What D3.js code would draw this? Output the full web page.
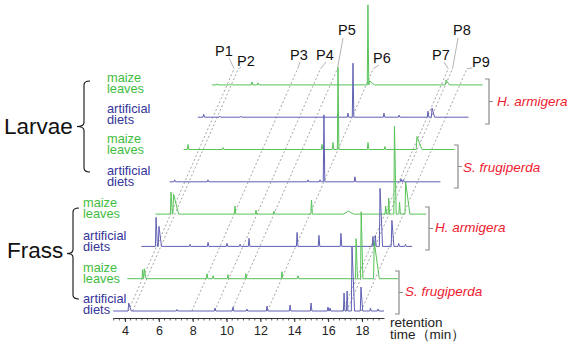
<!DOCTYPE html>
<html><head><meta charset="utf-8">
<script src="https://cdn.jsdelivr.net/npm/d3@7"></script>
<style>
body{margin:0;background:#fff}
text{font-family:"Liberation Sans",Arial,sans-serif}
</style>
</head><body>
<svg id="c" width="574" height="350"></svg>
<script>
// ---------------- DATA ----------------
// traces listed bottom -> top; each peak: [retention time (min), height (a.u.), tail width (min), lead width (min)]
const traceKinds = ["diet","maize","diet","maize","diet","maize","diet","maize"];
const peaksFrassDietSF = [[4.22,8,0.15],[7.07,1.5],[9.32,3],[10.38,4],[11.2,2],[12.39,5],[13.75,6],[14.99,8],[15.99,4],[16.11,3],[16.94,18],[17.12,20],[17.41,64,0.15],[17.94,24,0.1],[18.5,3],[18.95,2]];
const peaksFrassMaizeSF = [[4.21,9],[4.31,10,0.1],[8.01,5],[8.37,3],[9.25,4],[10.31,5],[12.44,7],[13.39,3],[16.82,40,0.08],[17.12,67,0.1],[17.89,37,0.3]];
const peaksFrassDietHA = [[4.17,29,0.08],[4.34,20,0.15],[6.17,2],[7.24,4],[8.36,3],[9.13,2],[9.66,8],[12.5,14],[13.79,11],[15.09,13],[16.98,10],[17.12,11],[17.4,58,0.15],[18.1,26,0.12],[18.5,3],[18.9,2]];
const peaksFrassMaizeHA = [[4.22,22,0.08],[4.37,20,0.3],[8.0,8],[9.24,4],[10.3,3],[12.52,14],[14.7,3,0.3,0.3],[16.9,8],[17.08,16],[17.42,88,0.1],[17.72,12],[18.08,32,0.25]];
const peaksLarvaeDietSF = [[3.6,2],[5.57,2],[11.48,2],[12.19,2],[12.42,67],[14.25,5],[16.97,3],[17.1,2]];
const peaksLarvaeMaizeSF = [[3.56,5],[5.62,2],[11.47,5],[12.12,7],[12.42,82],[14.19,7],[15.19,3],[17.08,13,0.3]];
const peaksLarvaeDietHA = [[3.65,3],[4.6,1],[5.85,1],[11.58,3],[12.17,4],[12.47,54],[14.3,4],[15.19,2],[16.9,6],[17.14,9,0.15]];
const peaksLarvaeMaizeHA = [[3.6,1],[4.4,1],[5.67,3],[6.03,2],[12.52,80],[12.62,4,0.3],[17.13,5,0.2]];
const tracePeaks = [peaksFrassDietSF,peaksFrassMaizeSF,peaksFrassDietHA,peaksFrassMaizeHA,
                    peaksLarvaeDietSF,peaksLarvaeMaizeSF,peaksLarvaeDietHA,peaksLarvaeMaizeHA];
const runRange = [3.3, 19.3];
const peakLabels = ["P1","P2","P3","P4","P5","P6","P7","P8","P9"];
const peakTimes  = [4.2, 4.45, 7.95, 9.3, 10.3, 12.42, 16.85, 17.1, 17.95];
const axisTicks = [4,6,8,10,12,14,16,18];
const seriesLines = {maize:["maize","leaves"], diet:["artificial","diets"]};
const speciesNames = ["S. frugiperda","H. armigera","S. frugiperda","H. armigera"];
const groupNames = ["Frass","Larvae"];

// ---------------- LAYOUT ----------------
const svg = d3.select("#c");
const x = d3.scaleLinear().domain([4,18]).range([125,362]);
const yI = d3.scaleLinear().domain([0,100]).range([0,-100]);
const base0 = 311, dX = 14.1, dY = 32.3;
const col = {maize:"#58c358", diet:"#6060b4"};
const txtCol = {maize:"#3fbd3f", diet:"#34349a"};
const off = k => [k*dX, base0 - k*dY];

// dashed guide lines (constant retention time across traces)
const lvlTop = 7.5;
const labelPos = [[215,56],[237,66],[290,60],[316,60],[338,35],[373,63],[432,60],[453,35],[472,67]];
const leadStart = [[229,58],[241,67],[300,62],[326,62],[343,38],[379,65],[444,62],[458,38],[472,68]];
const guides = svg.append("g");
peakTimes.forEach((t,i)=>{
  const p0 = [x(t)+off(0)[0], off(0)[1]];
  const p1 = [x(t)+lvlTop*dX, base0 - lvlTop*dY];
  guides.append("line").attr("x1",p0[0]).attr("y1",p0[1]).attr("x2",p1[0]).attr("y2",p1[1])
    .attr("stroke","#9a9a9a").attr("stroke-width",0.9).attr("stroke-dasharray","2,2.2");
  guides.append("line").attr("x1",leadStart[i][0]).attr("y1",leadStart[i][1]).attr("x2",p1[0]).attr("y2",p1[1])
    .attr("stroke","#a0a0a0").attr("stroke-width",0.8);
  svg.append("text").attr("x",labelPos[i][0]).attr("y",labelPos[i][1]).attr("font-size",14.5)
    .attr("fill","#111").text(peakLabels[i]);
});

// traces
function tracePoints(peaks){
  const pts=[[runRange[0],0]];
  peaks.forEach(p=>{
    const [t,h,tail=0.05,lead=0.04]=p;
    let s=t-lead;
    const last=pts[pts.length-1];
    if(last[0]>s){ pts.pop(); const m=(last[0]+s)/2; pts.push([Math.min(m,t-0.01),Math.min(h,last[1]+2)*0.35]); }
    else pts.push([s,0]);
    pts.push([t,h]); pts.push([t+tail,0]);
  });
  pts.push([runRange[1],0]);
  return pts;
}
const line = d3.line().x(d=>x(d[0])).y(d=>yI(d[1]));
for(let k=7;k>=0;k--){
  const [ox,oy]=off(k);
  svg.append("g").attr("transform",`translate(${ox},${oy})`)
    .append("path").attr("d",line(tracePoints(tracePeaks[k])))
    .attr("fill","none").attr("stroke",col[traceKinds[k]]).attr("stroke-width",1).attr("stroke-linejoin","round");
}

// axis
const xa = d3.scaleLinear().domain(runRange).range([x(runRange[0]),x(runRange[1])]);
const axY = 318;
const gAx = svg.append("g").attr("transform",`translate(0,${axY})`);
gAx.call(d3.axisBottom(xa).tickValues(axisTicks).tickSize(4).tickSizeOuter(0).tickPadding(4));
const minor = d3.range(10,58).map(i=>i/3).filter(v=>v>=runRange[0]&&v<=runRange[1]);
gAx.append("g").selectAll("line").data(minor).join("line")
  .attr("x1",d=>xa(d)).attr("x2",d=>xa(d)).attr("y1",0).attr("y2",2.5).attr("stroke","#333").attr("stroke-width",0.8);
gAx.selectAll("text").attr("font-size",12.5).attr("font-family","'Liberation Sans',Arial,sans-serif").attr("fill","#222");
gAx.selectAll(".domain,.tick line").attr("stroke","#333");
const axT = svg.append("text").attr("font-size",13.5).attr("fill","#222");
axT.append("tspan").attr("x",390).attr("y",327).text("retention");
axT.append("tspan").attr("x",390).attr("y",339).text("time（min）");

// series labels on the left (two lines in one text element)
const labelX = [83,83,83,83,107,107,107,107];
const labelBase = [302.5,271.5,239.5,206.5,174.5,142.5,112.5,81.5];
for(let k=0;k<8;k++){
  const kind=traceKinds[k];
  const t = svg.append("text").attr("font-size",12.8).attr("fill",txtCol[kind]);
  seriesLines[kind].forEach((s,j)=>{
    t.append("tspan").attr("x",labelX[k]).attr("y",labelBase[k]+j*11).text(s);
  });
}

// group labels + curly braces
function brace(xv, y0, y1, tipX){
  const ym=(y0+y1)/2, e=xv+6;
  return `M${e},${y0} Q${xv},${y0} ${xv},${y0+4} L${xv},${ym-4} Q${xv},${ym} ${tipX},${ym} Q${xv},${ym} ${xv},${ym+4} L${xv},${y1-4} Q${xv},${y1} ${e},${y1}`;
}
svg.append("path").attr("d",brace(84,81,172,77)).attr("fill","none").attr("stroke","#111").attr("stroke-width",1.1);
svg.append("path").attr("d",brace(73,208,299,67)).attr("fill","none").attr("stroke","#111").attr("stroke-width",1.1);
svg.append("text").attr("x",4).attr("y",134).attr("font-size",22.5).attr("fill","#111").text(groupNames[1]);
svg.append("text").attr("x",7).attr("y",258).attr("font-size",22.5).attr("fill","#111").text(groupNames[0]);

// species brackets (right)
const brk = [[395,399,271,314,405,296],[425,429,207,250,435,232],[454,458,145,188,463,172],[485,489,79,124,497,106]];
brk.forEach((b,i)=>{
  const [xl,xr,y0,y1,tx,ty]=b, ym=(y0+y1)/2;
  svg.append("path").attr("d",`M${xl},${y0} H${xr} V${y1} H${xl} M${xr},${ym} H${xr+4}`)
    .attr("fill","none").attr("stroke","#8a8a8a").attr("stroke-width",1.2);
  svg.append("text").attr("x",tx).attr("y",ty).attr("font-size",13.5).attr("font-style","italic")
    .attr("fill","#ee2030").text(speciesNames[i]);
});
</script>
</body></html>
